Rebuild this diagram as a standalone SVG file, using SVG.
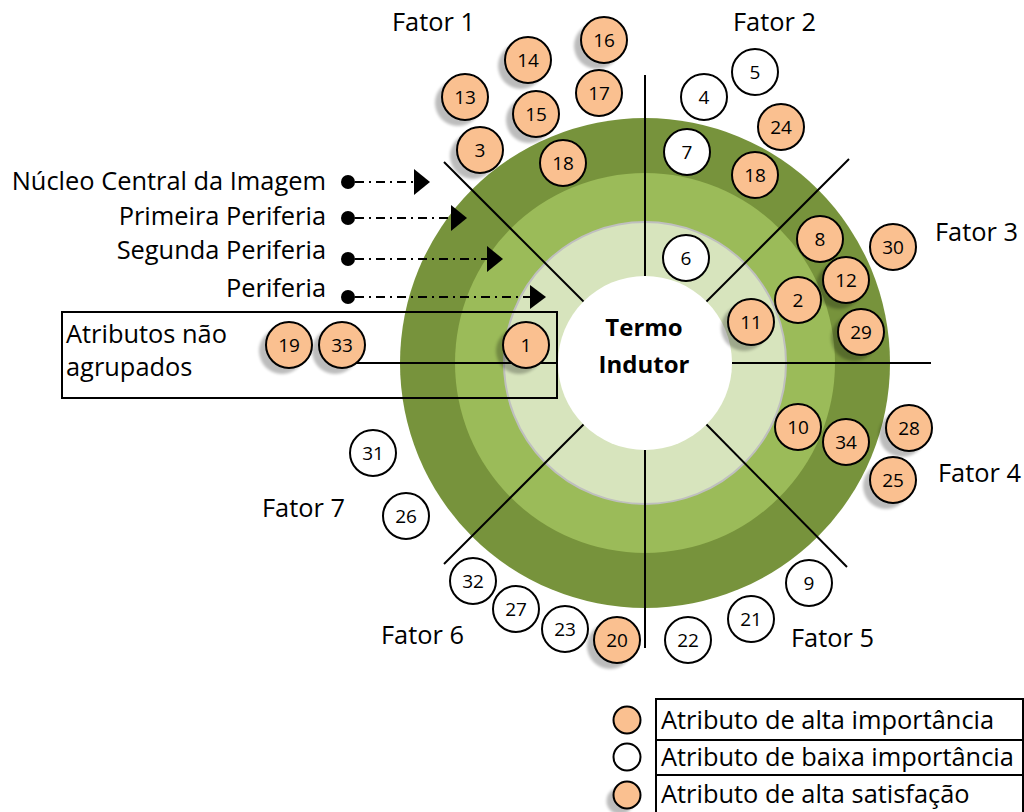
<svg xmlns="http://www.w3.org/2000/svg" width="1024" height="812" viewBox="0 0 1024 812">
<style>
text{font-family:"Open Sans","Liberation Sans",sans-serif;fill:#000}
.lbl{font-size:25.4px}
.num{font-size:19px;text-anchor:middle}
.hi{fill:#FAC090;stroke:#000;stroke-width:2}
.lo{fill:#fff;stroke:#000;stroke-width:2}
.sh{fill:#000;opacity:0.26;filter:url(#blur)}
.ln{stroke:#000;stroke-width:2;fill:none}
.dd{stroke:#000;stroke-width:2;fill:none;stroke-dasharray:9 5 2 5}
</style>
<defs>
<filter id="blur" x="-50%" y="-50%" width="200%" height="200%"><feGaussianBlur stdDeviation="1.8"/></filter>
</defs>
<rect width="1024" height="812" fill="#fff"/>
<g id="rings">
<circle cx="645" cy="363" r="245" fill="#77933C"/>
<circle cx="645" cy="363" r="190" fill="#9BBB59"/>
<circle cx="645" cy="363" r="141" fill="#D7E4BD" stroke="#BFBFBF" stroke-width="2"/>
<circle cx="645" cy="363" r="87" fill="#fff"/>
</g>
<g id="termo">
<text x="644" y="336" font-size="24" font-weight="bold" text-anchor="middle">Termo</text>
<text x="644" y="373" font-size="24" font-weight="bold" text-anchor="middle">Indutor</text>
</g>
<g id="connectors">
<line class="ln" x1="645" y1="75" x2="645" y2="276"/>
<line class="ln" x1="645" y1="450" x2="645" y2="648"/>
<line class="ln" x1="732" y1="363" x2="931" y2="363"/>
<line class="ln" x1="350" y1="363" x2="558" y2="363"/>
<line class="ln" x1="583.5" y1="301.5" x2="444" y2="162"/>
<line class="ln" x1="706.5" y1="301.5" x2="849" y2="159"/>
<line class="ln" x1="706.5" y1="424.5" x2="847" y2="567"/>
<line class="ln" x1="583.5" y1="424.5" x2="444" y2="564"/>
<circle cx="348" cy="182" r="7"/>
<line class="dd" x1="355" y1="182" x2="414" y2="182"/>
<polygon points="414,169 430,182 414,195"/>
<circle cx="348" cy="218" r="7"/>
<line class="dd" x1="355" y1="218" x2="451" y2="218"/>
<polygon points="451,205 467,218 451,231"/>
<circle cx="348" cy="259" r="7"/>
<line class="dd" x1="355" y1="259" x2="487" y2="259"/>
<polygon points="487,246 503,259 487,272"/>
<circle cx="348" cy="297" r="7"/>
<line class="dd" x1="355" y1="297" x2="530" y2="297"/>
<polygon points="530,285 546,297 530,309"/>
</g>
<g id="legend-left">
<text class="lbl" x="326" y="190" text-anchor="end">Núcleo Central da Imagem</text>
<text class="lbl" x="326" y="225" text-anchor="end">Primeira Periferia</text>
<text class="lbl" x="326" y="259" text-anchor="end">Segunda Periferia</text>
<text class="lbl" x="326" y="297" text-anchor="end">Periferia</text>
</g>
<g id="nao-agrupados">
<rect x="62" y="312" width="495" height="86" fill="none" stroke="#000" stroke-width="2"/>
<text class="lbl" x="66" y="343">Atributos não</text>
<text class="lbl" x="66" y="376">agrupados</text>
</g>
<g id="fatores">
<text class="lbl" x="392" y="31">Fator 1</text>
<text class="lbl" x="733" y="31">Fator 2</text>
<text class="lbl" x="935" y="241">Fator 3</text>
<text class="lbl" x="938" y="482">Fator 4</text>
<text class="lbl" x="791" y="647">Fator 5</text>
<text class="lbl" x="381" y="644">Fator 6</text>
<text class="lbl" x="262" y="517">Fator 7</text>
</g>
<g id="n16"><circle class="sh" cx="597" cy="46" r="23"/><circle class="hi" cx="604" cy="40" r="23"/><text class="num" x="604" y="47">16</text></g>
<g id="n14"><circle class="sh" cx="521" cy="66" r="23"/><circle class="hi" cx="528" cy="60" r="23"/><text class="num" x="528" y="67">14</text></g>
<g id="n13"><circle class="sh" cx="458" cy="103" r="23"/><circle class="hi" cx="465" cy="97" r="23"/><text class="num" x="465" y="104">13</text></g>
<g id="n17"><circle class="hi" cx="599" cy="93" r="23"/><text class="num" x="599" y="100">17</text></g>
<g id="n15"><circle class="sh" cx="529" cy="120" r="23"/><circle class="hi" cx="536" cy="114" r="23"/><text class="num" x="536" y="121">15</text></g>
<g id="n3"><circle class="sh" cx="473" cy="156" r="23"/><circle class="hi" cx="480" cy="150" r="23"/><text class="num" x="480" y="157">3</text></g>
<g id="n18a"><circle class="hi" cx="563" cy="163" r="23"/><text class="num" x="563" y="170">18</text></g>
<g id="n5"><circle class="lo" cx="755" cy="72" r="23"/><text class="num" x="755" y="79">5</text></g>
<g id="n4"><circle class="lo" cx="704" cy="97" r="23"/><text class="num" x="704" y="104">4</text></g>
<g id="n24"><circle class="hi" cx="781" cy="127" r="23"/><text class="num" x="781" y="134">24</text></g>
<g id="n7"><circle class="lo" cx="687" cy="152" r="23"/><text class="num" x="687" y="159">7</text></g>
<g id="n18b"><circle class="hi" cx="755" cy="175" r="23"/><text class="num" x="755" y="182">18</text></g>
<g id="n6"><circle class="lo" cx="686" cy="258" r="23"/><text class="num" x="686" y="265">6</text></g>
<g id="n8"><circle class="hi" cx="820" cy="239" r="23"/><text class="num" x="820" y="246">8</text></g>
<g id="n30"><circle class="hi" cx="893" cy="247" r="23"/><text class="num" x="893" y="254">30</text></g>
<g id="n12"><circle class="sh" cx="839" cy="286" r="23"/><circle class="hi" cx="846" cy="280" r="23"/><text class="num" x="846" y="287">12</text></g>
<g id="n2"><circle class="hi" cx="798" cy="300" r="23"/><text class="num" x="798" y="307">2</text></g>
<g id="n11"><circle class="sh" cx="744" cy="328" r="23"/><circle class="hi" cx="751" cy="322" r="23"/><text class="num" x="751" y="329">11</text></g>
<g id="n29"><circle class="sh" cx="854" cy="338" r="23"/><circle class="hi" cx="861" cy="332" r="23"/><text class="num" x="861" y="339">29</text></g>
<g id="n10"><circle class="hi" cx="798" cy="427" r="23"/><text class="num" x="798" y="434">10</text></g>
<g id="n34"><circle class="hi" cx="846" cy="442" r="23"/><text class="num" x="846" y="449">34</text></g>
<g id="n28"><circle class="sh" cx="902" cy="434" r="23"/><circle class="hi" cx="909" cy="428" r="23"/><text class="num" x="909" y="435">28</text></g>
<g id="n25"><circle class="sh" cx="886" cy="486" r="23"/><circle class="hi" cx="893" cy="480" r="23"/><text class="num" x="893" y="487">25</text></g>
<g id="n9"><circle class="lo" cx="809" cy="583" r="23"/><text class="num" x="809" y="590">9</text></g>
<g id="n21"><circle class="lo" cx="751" cy="619" r="23"/><text class="num" x="751" y="626">21</text></g>
<g id="n22"><circle class="lo" cx="688" cy="640" r="23"/><text class="num" x="688" y="647">22</text></g>
<g id="n20"><circle class="sh" cx="610" cy="646" r="23"/><circle class="hi" cx="617" cy="640" r="23"/><text class="num" x="617" y="647">20</text></g>
<g id="n23"><circle class="lo" cx="565" cy="629" r="23"/><text class="num" x="565" y="636">23</text></g>
<g id="n27"><circle class="lo" cx="516" cy="609" r="23"/><text class="num" x="516" y="616">27</text></g>
<g id="n32"><circle class="lo" cx="473" cy="581" r="23"/><text class="num" x="473" y="588">32</text></g>
<g id="n26"><circle class="lo" cx="406" cy="516" r="23"/><text class="num" x="406" y="523">26</text></g>
<g id="n31"><circle class="lo" cx="373" cy="453" r="23"/><text class="num" x="373" y="460">31</text></g>
<g id="n19"><circle class="sh" cx="282" cy="351" r="23"/><circle class="hi" cx="289" cy="345" r="23"/><text class="num" x="289" y="352">19</text></g>
<g id="n33"><circle class="sh" cx="335" cy="351" r="23"/><circle class="hi" cx="342" cy="345" r="23"/><text class="num" x="342" y="352">33</text></g>
<g id="n1"><circle class="sh" cx="519" cy="351" r="23"/><circle class="hi" cx="526" cy="345" r="23"/><text class="num" x="526" y="352">1</text></g>
<g id="legend">
<rect x="656" y="699" width="367" height="41" fill="none" stroke="#000" stroke-width="2"/>
<rect x="656" y="740" width="367" height="35" fill="none" stroke="#000" stroke-width="2"/>
<rect x="656" y="775" width="367" height="40" fill="none" stroke="#000" stroke-width="2"/>
<circle class="hi" cx="627" cy="720" r="13.5"/>
<circle class="lo" cx="627" cy="757" r="13.5"/>
<circle class="sh" cx="620" cy="801" r="13.5"/>
<circle class="hi" cx="627" cy="795" r="13.5"/>
<text class="lbl" x="661" y="729">Atributo de alta importância</text>
<text class="lbl" x="661" y="766">Atributo de baixa importância</text>
<text class="lbl" x="661" y="803">Atributo de alta satisfação</text>
</g>
</svg>
